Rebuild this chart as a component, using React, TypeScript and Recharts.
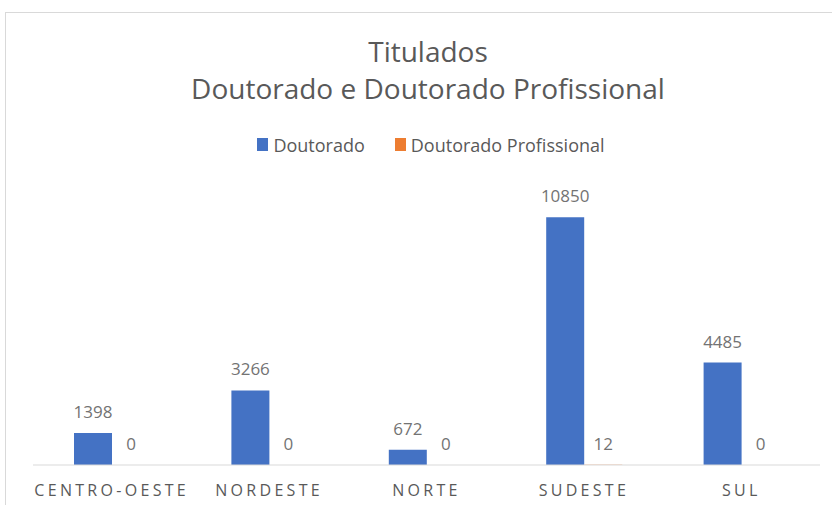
import React from 'react';
import { BarChart, Bar, XAxis, YAxis, LabelList } from 'recharts';

const regions = ['CENTRO-OESTE', 'NORDESTE', 'NORTE', 'SUDESTE', 'SUL'];
const doutorado = [1398, 3266, 672, 10850, 4485];
const doutoradoProfissional = [0, 0, 0, 12, 0];

const BLUE = '#4472C4';
const ORANGE = '#ED7D31';
const TEXT = '#595959';
const LABEL = '#737373';
const FONT = '"Open Sans", sans-serif';

const data = regions.map((r, i) => ({
  region: r,
  doutorado: doutorado[i],
  profissional: doutoradoProfissional[i],
}));

const LegendItem: React.FC<{ color: string; label: string; gap?: number }> = ({ color, label, gap = 0 }) => (
  <span style={{ display: 'inline-flex', alignItems: 'center', marginRight: gap }}>
    <span style={{ width: 11, height: 13, background: color, display: 'inline-block', marginRight: 5 }} />
    <span>{label}</span>
  </span>
);

export default function App() {
  return (
    <div style={{ position: 'absolute', left: 0, top: 0, width: 832, height: 505, overflow: 'hidden', background: '#fff', fontFamily: FONT }}>
      <div style={{ position: 'absolute', left: 5, top: 12, width: 900, height: 600, border: '1px solid #d9d9d9' }} />
      <svg width={832} height={120} style={{ position: 'absolute', left: 0, top: 0 }}>
        <text x={428} y={62} textAnchor="middle" fontSize={28} fill={TEXT} fontFamily={FONT}>Titulados</text>
        <text x={428} y={99} textAnchor="middle" fontSize={28} fill={TEXT} fontFamily={FONT}>Doutorado e Doutorado Profissional</text>
      </svg>
      <div style={{ position: 'absolute', left: 0, width: 862, top: 132, textAlign: 'center', fontSize: 18, color: TEXT, whiteSpace: 'nowrap' }}>
        <LegendItem color={BLUE} label="Doutorado" gap={30} />
        <LegendItem color={ORANGE} label="Doutorado Profissional" />
      </div>
      <div style={{ position: 'absolute', left: 0, top: 0 }}>
        <BarChart width={832} height={505} data={data} margin={{ top: 191, right: 12, bottom: 0, left: 33 }} barCategoryGap={41} barGap={0}>
          <XAxis
            dataKey="region"
            height={40}
            tickLine={false}
            axisLine={{ stroke: '#d9d9d9' }}
            tickMargin={14}
            interval={0}
            tick={{ fill: TEXT, fontSize: 16, letterSpacing: 3.3, fontFamily: FONT }}
          />
          <YAxis hide domain={[0, 12000]} />
          <Bar dataKey="doutorado" fill={BLUE} isAnimationActive={false}>
            <LabelList dataKey="doutorado" position="top" offset={15} style={{ fill: LABEL, fontSize: 17, fontFamily: FONT }} />
          </Bar>
          <Bar dataKey="profissional" fill={ORANGE} minPointSize={0.01} isAnimationActive={false}>
            <LabelList dataKey="profissional" position="top" offset={15} style={{ fill: LABEL, fontSize: 17, fontFamily: FONT }} />
          </Bar>
        </BarChart>
      </div>
    </div>
  );
}
